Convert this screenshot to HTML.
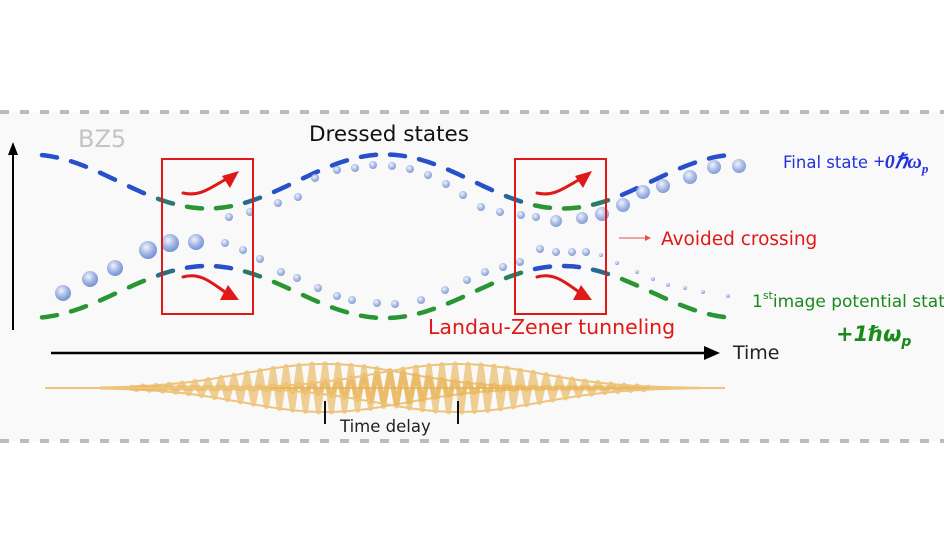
<!DOCTYPE html>
<html><head><meta charset="utf-8"><style>
html,body{margin:0;padding:0;background:#fff;}
svg{display:block;}
text{font-family:"DejaVu Sans","Liberation Sans",sans-serif;}
</style></head><body>
<svg id="s" width="944" height="554" viewBox="0 0 944 554" xmlns="http://www.w3.org/2000/svg">
<defs>
<radialGradient id="ball" cx="0.4" cy="0.35" r="0.7">
<stop offset="0" stop-color="#eef2fb"/><stop offset="0.6" stop-color="#8fa6de"/><stop offset="1" stop-color="#5f7fcf"/>
</radialGradient>
</defs>
<rect x="0" y="112" width="944" height="329" fill="#f8f9f8"/>
<line x1="0" y1="112" x2="944" y2="112" stroke="#bbb" stroke-width="4" stroke-dasharray="9,11"/>
<line x1="0" y1="441" x2="944" y2="441" stroke="#bbb" stroke-width="4" stroke-dasharray="9,11"/>
<g id="curves"></g>
<g id="dots"></g>
<g id="pulse"></g>
<text x="78" y="147" font-size="24" fill="#c4c4c4">BZ5</text>
<text x="309" y="141" font-size="21.5" fill="#111">Dressed states</text>
<!-- axes -->
<line x1="13" y1="330" x2="13" y2="150" stroke="#000" stroke-width="2"/>
<polygon points="13,142 8,155 18,155" fill="#000"/>
<line x1="51" y1="353" x2="708" y2="353" stroke="#000" stroke-width="2.5"/>
<polygon points="720,353 704,346 704,360" fill="#000"/>
<text x="733" y="359" font-size="19" fill="#222">Time</text>
<!-- boxes -->
<rect x="162" y="159" width="91" height="155" fill="none" stroke="#e01818" stroke-width="2"/>
<rect x="515" y="159" width="91" height="155" fill="none" stroke="#e01818" stroke-width="2"/>
<g fill="none" stroke="#e01818" stroke-width="3" stroke-linecap="round">
<path d="M183,193 C200,197 210,188 228,178"/>
<path d="M183,277 C200,272 212,283 225,292"/>
<path d="M537,193 C554,197 564,188 582,178"/>
<path d="M537,277 C554,272 566,283 579,292"/>
</g>
<g fill="#e01818">
<polygon points="239,171 222,176 230,188"/>
<polygon points="239,300 220,300 228,285"/>
<polygon points="592,171 575,176 583,188"/>
<polygon points="592,300 573,300 581,285"/>
</g>
<line x1="619" y1="238" x2="647" y2="238" stroke="#e85050" stroke-width="1"/>
<polygon points="651,238 645,235 645,241" fill="#e85050"/>
<text x="661" y="245" font-size="18.5" fill="#e01818">Avoided crossing</text>
<text x="428" y="334" font-size="20.5" fill="#e01818">Landau-Zener tunneling</text>
<text x="783" y="168" font-size="16.5" fill="#2233dd">Final state <tspan font-family="Liberation Serif,serif" font-style="italic" font-weight="bold" font-size="20">+0ℏω</tspan><tspan font-family="Liberation Serif,serif" font-style="italic" font-weight="bold" font-size="13" dy="5">p</tspan></text>
<text x="752" y="307" font-size="17" fill="#1a8a1a">1<tspan font-size="11" dy="-8">st</tspan><tspan dy="8">image potential state</tspan></text>
<text x="836" y="341" font-family="Liberation Serif,serif" font-style="italic" font-weight="bold" font-size="21" fill="#1a8a1a">+1ℏω<tspan font-size="14" dy="5">p</tspan></text>
<line x1="325" y1="401" x2="325" y2="424" stroke="#111" stroke-width="2"/>
<line x1="458" y1="401" x2="458" y2="424" stroke="#111" stroke-width="2"/>
<text x="340" y="432" font-size="16.5" fill="#222">Time delay</text>
<script>
(function(){
var NS="http://www.w3.org/2000/svg";
function el(n,a,p){var e=document.createElementNS(NS,n);for(var k in a)e.setAttribute(k,a[k]);p.appendChild(e);return e;}
var P=355,X0=30;
function up(x){return 181.5-27*Math.cos(2*Math.PI*(x-X0)/P);}
function lo(x){return 292+26*Math.cos(2*Math.PI*(x-X0)/P);}
function mix(a,b,t){var r=[];for(var i=0;i<3;i++)r.push(Math.round(a[i]+(b[i]-a[i])*t));return "rgb("+r.join(",")+")";}
var blue=[40,80,200],green=[40,150,50];
var g=document.getElementById("curves");
function curve(f,isUp){
 var x=42;
 while(x<740){
  var x2=Math.min(x+17,740);
  var d="M"+x+","+f(x).toFixed(1);
  for(var xx=x+3;xx<=x2;xx+=3)d+=" L"+xx+","+f(xx).toFixed(1);
  var c=Math.cos(2*Math.PI*((x+x2)/2-X0)/P);
  var t=isUp?(1-Math.max(0,Math.min(1,(-c-0.55)/0.35))):(Math.max(0,Math.min(1,(-c-0.55)/0.35)));
  el("path",{d:d,fill:"none",stroke:mix(green,blue,t),"stroke-width":4.5,"stroke-linecap":"round"},g);
  x+=29;
 }
}
curve(up,true);curve(lo,false);
var dg=document.getElementById("dots");
var big=[[63,293,8],[90,279,8],[115,268,8],[148,250,9],[170,243,9],[196,242,8]];
big.forEach(function(b){el("circle",{cx:b[0],cy:b[1],r:b[2],fill:"url(#ball)",opacity:0.9},dg);});
var sm=[[229,217],[250,212],[278,203],[298,197],[315,178],[337,170],[355,168],[373,165],[392,166],[410,169],[428,175],[446,184],[463,195],[481,207],[500,212],[521,215],[536,217],[556,221],[582,218],[602,214],[623,205],[643,192],[663,186],[690,177],[714,167],[739,166],
[225,243],[243,250],[260,259],[281,272],[297,278],[318,288],[337,296],[352,300],[377,303],[395,304],[421,300],[445,290],[467,280],[485,272],[503,267],[520,262],[540,249],[556,252],[572,252],[586,252],[601,255],[617,263],[637,272],[653,279],[668,285],[685,288],[703,292],[728,296]];
sm.forEach(function(p,i){var r=(p[0]>600&&p[1]<230)?7:(p[0]>590&&p[1]>240?2:4);if(p[0]>545&&p[0]<600&&p[1]<230)r=6;el("circle",{cx:p[0],cy:p[1],r:r,fill:"url(#ball)",opacity:0.8},dg);});
var pg=document.getElementById("pulse");
el("line",{x1:45,y1:388,x2:725,y2:388,stroke:"#eec47a","stroke-width":2},pg);
[325,458].forEach(function(c){
 var d="",lam=13;
 for(var x=130;x<=650;x+=lam/2){
  var a=24*Math.exp(-Math.pow((x-c)/115,2));
  var s=(Math.round((x-130)/(lam/2))%2)?1:-1;
  d+=(d?" L":"M")+x.toFixed(1)+","+(388+s*a).toFixed(1);
 }
 el("path",{d:d,fill:"none",stroke:"#e8b050","stroke-width":5,opacity:0.6,"stroke-linejoin":"round"},pg);
 var e1="",e2="";
 for(var x=100;x<=700;x+=4){var a=24*Math.exp(-Math.pow((x-c)/115,2));e1+=(e1?" L":"M")+x+","+(388-a).toFixed(1);e2+=(e2?" L":"M")+x+","+(388+a).toFixed(1);}
 el("path",{d:e1,fill:"none",stroke:"#eec47a","stroke-width":2},pg);
 el("path",{d:e2,fill:"none",stroke:"#eec47a","stroke-width":2},pg);
});
})();
</script>
</svg>
</body></html>
